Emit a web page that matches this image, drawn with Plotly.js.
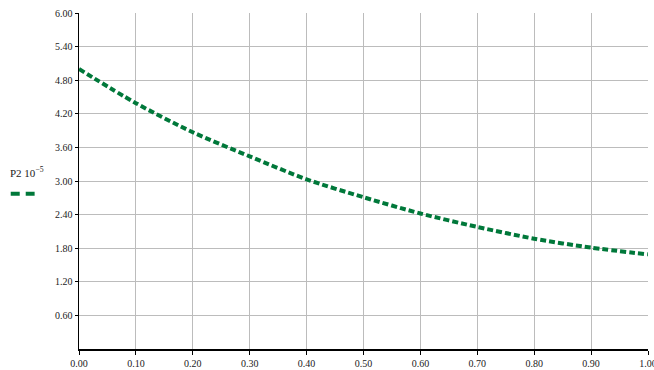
<!DOCTYPE html>
<html>
<head>
<meta charset="utf-8">
<script src="https://cdn.plot.ly/plotly-3.0.1.min.js"></script>
<style>html,body{margin:0;padding:0;background:#fff;}#chart{width:654px;height:370px;}</style>
</head>
<body>
<div id="chart"></div>
<script>
// Data
const xValues = [0.00, 0.10, 0.20, 0.30, 0.40, 0.50, 0.60, 0.70, 0.80, 0.90, 1.00];
const p2Values = [5.00, 4.39, 3.87, 3.44, 3.03, 2.71, 2.42, 2.18, 1.97, 1.81, 1.69];
const xTickVals = [0, 0.1, 0.2, 0.3, 0.4, 0.5, 0.6, 0.7, 0.8, 0.9, 1.0];
const xTickText = ["0.00","0.10","0.20","0.30","0.40","0.50","0.60","0.70","0.80","0.90","1.00"];
const yTickVals = [0.6, 1.2, 1.8, 2.4, 3.0, 3.6, 4.2, 4.8, 5.4, 6.0];
const yTickText = ["0.60","1.20","1.80","2.40","3.00","3.60","4.20","4.80","5.40","6.00"];
const seriesLabel = "P2 10<sup>−5</sup>";

const green = "#00783a";
const tickFont = {family: "Liberation Serif, Times New Roman, serif", size: 10, color: "#222"};

const trace = {
  x: xValues, y: p2Values, type: "scatter", mode: "lines",
  line: {color: green, width: 4, dash: "6px,3px", shape: "spline", smoothing: 0.8},
  hoverinfo: "skip", showlegend: false
};

const layout = {
  width: 654, height: 370,
  margin: {l: 79, r: 6, t: 13, b: 21, pad: 0},
  paper_bgcolor: "#fff", plot_bgcolor: "#fff",
  showlegend: false,
  xaxis: {
    range: [0, 1], tickvals: xTickVals, ticktext: xTickText,
    showgrid: true, gridcolor: "#bcbcbc", gridwidth: 1,
    zeroline: false, showline: true, linecolor: "#000", linewidth: 1.5,
    ticks: "outside", ticklen: 4, tickcolor: "#000", tickwidth: 1,
    tickfont: tickFont, ticklabeloverflow: "allow", fixedrange: true
  },
  yaxis: {
    range: [0, 6], tickvals: yTickVals, ticktext: yTickText,
    showgrid: true, gridcolor: "#bcbcbc", gridwidth: 1,
    zeroline: false, showline: true, linecolor: "#000", linewidth: 1.5,
    ticks: "outside", ticklen: 3, tickcolor: "#000", tickwidth: 1,
    tickfont: tickFont, ticklabeloverflow: "allow", fixedrange: true
  },
  annotations: [{
    xref: "paper", yref: "paper", x: -0.125, y: 0.5, xanchor: "left", yanchor: "bottom",
    text: seriesLabel, showarrow: false,
    font: {family: "Liberation Serif, Times New Roman, serif", size: 11, color: "#222"}
  }],
  shapes: [{
    type: "line", xref: "paper", yref: "paper",
    x0: -0.12, x1: -0.078, y0: 0.462, y1: 0.462,
    line: {color: green, width: 4, dash: "9px,6px"}
  }]
};

Plotly.newPlot("chart", [trace], layout, {staticPlot: true, displayModeBar: false});
</script>
</body>
</html>
